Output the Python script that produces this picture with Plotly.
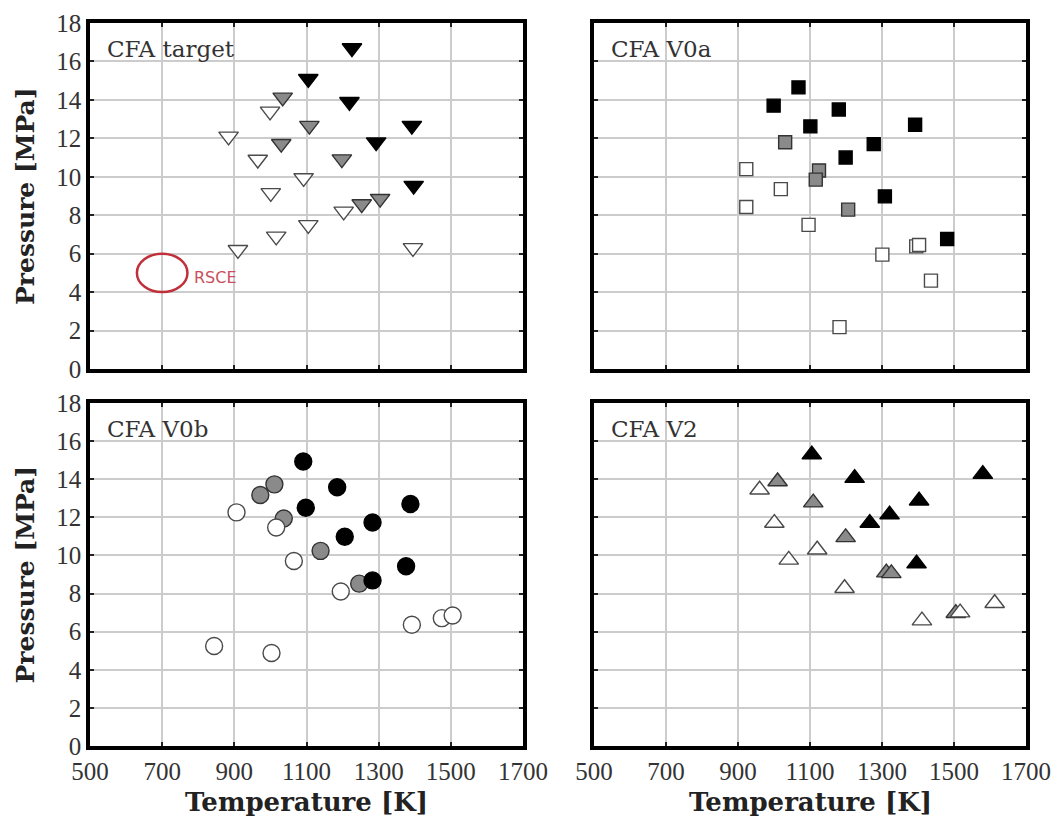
import plotly.graph_objects as go

# ---- CFA target (triangle-down) ----
tgt_black_T = [1226, 1105, 1219, 1392, 1293, 1397]
tgt_black_P = [16.7, 15.1, 13.9, 12.66, 11.8, 9.54]
tgt_gray_T = [1034, 1108, 1030, 1198, 1253, 1304]
tgt_gray_P = [14.13, 12.66, 11.72, 10.92, 8.58, 8.86]
tgt_white_T = [999, 884, 965, 1092, 1001, 1203, 1105, 1016, 910, 1395]
tgt_white_P = [13.4, 12.1, 10.9, 9.94, 9.16, 8.2, 7.5, 6.9, 6.2, 6.3]

# ---- CFA V0a (squares) ----
v0a_black_T = [1068, 999, 1180, 1101, 1392, 1277, 1199, 1308, 1481]
v0a_black_P = [14.65, 13.7, 13.5, 12.62, 12.71, 11.7, 11.0, 8.98, 6.76]
v0a_gray_T = [1031, 1125, 1116, 1206]
v0a_gray_P = [11.8, 10.33, 9.85, 8.29]
v0a_white_T = [923, 1019, 923, 1096, 1395, 1403, 1301, 1436, 1182]
v0a_white_P = [10.4, 9.36, 8.43, 7.5, 6.38, 6.45, 5.95, 4.6, 2.18]

# ---- CFA V0b (circles) ----
v0b_black_T = [1091, 1185, 1098, 1388, 1283, 1206, 1283, 1376]
v0b_black_P = [14.93, 13.58, 12.5, 12.7, 11.73, 10.98, 8.69, 9.43]
v0b_gray_T = [1011, 972, 1037, 1139, 1246]
v0b_gray_P = [13.73, 13.17, 11.94, 10.24, 8.52]
v0b_white_T = [906, 1016, 1065, 1195, 844, 1003, 1392, 1475, 1505]
v0b_white_P = [12.26, 11.47, 9.71, 8.11, 5.25, 4.88, 6.36, 6.71, 6.85]

# ---- CFA V2 (triangle-up) ----
v2_black_T = [1105, 1224, 1580, 1403, 1321, 1266, 1396]
v2_black_P = [15.29, 14.06, 14.27, 12.87, 12.14, 11.7, 9.57]
v2_gray_T = [1010, 1109, 1199, 1312, 1326, 1505]
v2_gray_P = [13.88, 12.77, 10.95, 9.1, 9.06, 6.97]
v2_white_T = [960, 1001, 1041, 1120, 1196, 1411, 1517, 1613]
v2_white_P = [13.45, 11.7, 9.77, 10.3, 8.28, 6.58, 7.0, 7.49]

panel_titles = ["CFA target", "CFA V0a", "CFA V0b", "CFA V2"]
x_ticks = [500, 700, 900, 1100, 1300, 1500, 1700]
y_ticks = [0, 2, 4, 6, 8, 10, 12, 14, 16, 18]

# RSCE operating region (ellipse centre and half-widths)
rsce_T, rsce_P = 700, 5.0
rsce_dT, rsce_dP = 70, 1.0

FILL = {"black": "#000000", "gray": "#8a8a8a", "white": "#ffffff"}
EDGE = {"black": "#000000", "gray": "#333333", "white": "#4a4a4a"}

SERIF = "Liberation Serif, DejaVu Serif, serif"
WIDE_SERIF = "DejaVu Serif, Liberation Serif, serif"

panels = [
    ("x", "y", "triangle-down", 17,
     [("white", tgt_white_T, tgt_white_P), ("gray", tgt_gray_T, tgt_gray_P),
      ("black", tgt_black_T, tgt_black_P)]),
    ("x2", "y2", "square", 13,
     [("white", v0a_white_T, v0a_white_P), ("gray", v0a_gray_T, v0a_gray_P),
      ("black", v0a_black_T, v0a_black_P)]),
    ("x3", "y3", "circle", 17,
     [("gray", v0b_gray_T, v0b_gray_P), ("white", v0b_white_T, v0b_white_P),
      ("black", v0b_black_T, v0b_black_P)]),
    ("x4", "y4", "triangle-up", 17,
     [("gray", v2_gray_T, v2_gray_P), ("white", v2_white_T, v2_white_P),
      ("black", v2_black_T, v2_black_P)]),
]

fig = go.Figure()
for xa, ya, sym, size, groups in panels:
    for shade, T, P in groups:
        fig.add_trace(go.Scatter(
            x=T, y=P, xaxis=xa, yaxis=ya, mode="markers", showlegend=False,
            marker=dict(symbol=sym, size=size, color=FILL[shade],
                        line=dict(color=EDGE[shade], width=1.4)),
        ))

W, H = 1061, 821
col_x = [(90 / W, 523 / W), (594 / W, 1026 / W)]
row_y = [(1 - 369 / H, 1 - 23 / H), (1 - 746 / H, 1 - 403 / H)]

common = dict(
    automargin=False,
    showgrid=True, gridcolor="#cccccc", gridwidth=1.5, zeroline=False,
    showline=True, linecolor="black", linewidth=3.5, mirror="ticks",
    ticks="inside", ticklen=4, tickwidth=2, tickcolor="#222222",
    tickfont=dict(family=SERIF, size=25, color="#333333"),
)

def xaxis_cfg(col, show_labels, anchor):
    return dict(domain=list(col_x[col]), range=[500, 1700], tickvals=x_ticks,
                showticklabels=show_labels, anchor=anchor, **common)

def yaxis_cfg(row, show_labels, anchor):
    return dict(domain=list(row_y[row]), range=[0, 18], tickvals=y_ticks,
                showticklabels=show_labels, anchor=anchor, **common)

fig.update_layout(
    width=W, height=H, margin=dict(l=0, r=0, t=0, b=0, autoexpand=False),
    paper_bgcolor="white", plot_bgcolor="white",
    xaxis=xaxis_cfg(0, False, "y"), yaxis=yaxis_cfg(0, True, "x"),
    xaxis2=xaxis_cfg(1, False, "y2"), yaxis2=yaxis_cfg(0, False, "x2"),
    xaxis3=xaxis_cfg(0, True, "y3"), yaxis3=yaxis_cfg(1, True, "x3"),
    xaxis4=xaxis_cfg(1, True, "y4"), yaxis4=yaxis_cfg(1, False, "x4"),
)

annotations = []
for (xa, ya, *_), title in zip(panels, panel_titles):
    annotations.append(dict(
        text=title, xref=f"{xa} domain", yref=f"{ya} domain",
        x=0.035, y=0.925, xanchor="left", yanchor="middle", showarrow=False,
        font=dict(family=WIDE_SERIF, size=23, color="#333333"),
    ))

# axis titles
for row in range(2):
    annotations.append(dict(
        text="<b>Pressure [MPa]</b>", xref="paper", yref="paper",
        x=25 / W, y=sum(row_y[row]) / 2, textangle=-90, showarrow=False,
        xanchor="center", yanchor="middle",
        font=dict(family=WIDE_SERIF, size=25, color="#222222"),
    ))
for col in range(2):
    annotations.append(dict(
        text="<b>Temperature [K]</b>", xref="paper", yref="paper",
        x=sum(col_x[col]) / 2, y=1 - 802 / H, showarrow=False,
        xanchor="center", yanchor="middle",
        font=dict(family=WIDE_SERIF, size=26, color="#222222"),
    ))

annotations.append(dict(
    text="RSCE", xref="x", yref="y", x=rsce_T + rsce_dT + 12, y=rsce_P - 0.25,
    xanchor="left", yanchor="middle", showarrow=False,
    font=dict(family="DejaVu Sans, sans-serif", size=16, color="#c9505c"),
))
fig.update_layout(annotations=annotations)

fig.add_shape(
    type="circle", xref="x", yref="y",
    x0=rsce_T - rsce_dT, x1=rsce_T + rsce_dT,
    y0=rsce_P - rsce_dP, y1=rsce_P + rsce_dP,
    line=dict(color="#c0303a", width=2.5),
)

fig.write_html("out.html")
